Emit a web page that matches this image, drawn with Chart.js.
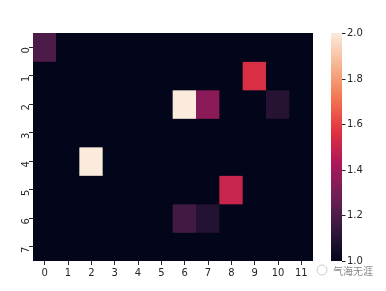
<!DOCTYPE html>
<html>
<head>
    <title>Heatmap</title>
    <script src="https://cdn.jsdelivr.net/npm/chart.js"></script>
    <style>
        body { margin: 0; background: #fff; }
    </style>
</head>
<body>
    <canvas id="heat" width="386" height="291"></canvas>

    <script>
        // data
        const rowLabels = ['0', '1', '2', '3', '4', '5', '6', '7'];
        const colLabels = ['0', '1', '2', '3', '4', '5', '6', '7', '8', '9', '10', '11'];
        const cellValues = [
            [1.2, 1, 1, 1, 1, 1, 1, 1, 1, 1, 1, 1],
            [1, 1, 1, 1, 1, 1, 1, 1, 1, 1.55, 1, 1],
            [1, 1, 1, 1, 1, 1, 2, 1.35, 1, 1, 1.1, 1],
            [1, 1, 1, 1, 1, 1, 1, 1, 1, 1, 1, 1],
            [1, 1, 2, 1, 1, 1, 1, 1, 1, 1, 1, 1],
            [1, 1, 1, 1, 1, 1, 1, 1, 1.5, 1, 1, 1],
            [1, 1, 1, 1, 1, 1, 1.17, 1.09, 1, 1, 1, 1],
            [1, 1, 1, 1, 1, 1, 1, 1, 1, 1, 1, 1]
        ];
        const vmin = 1.0;
        const vmax = 2.0;
        const cbTicks = [1.0, 1.2, 1.4, 1.6, 1.8, 2.0];

        // seaborn "rocket" stops
        const rocket = [
            [0, '#03051a'], [1 / 7, '#35193e'], [2 / 7, '#701f57'], [3 / 7, '#ad1759'],
            [4 / 7, '#e13342'], [5 / 7, '#f37651'], [6 / 7, '#f6b48f'], [1, '#faebdd']
        ];

        function hexRgb(h) {
            return [1, 3, 5].map(i => parseInt(h.slice(i, i + 2), 16));
        }

        function cmap(v) {
            let t = (v - vmin) / (vmax - vmin);
            t = Math.max(0, Math.min(1, t));
            for (let i = 1; i < rocket.length; i++) {
                if (t <= rocket[i][0]) {
                    const [t0, c0] = rocket[i - 1];
                    const [t1, c1] = rocket[i];
                    const f = (t - t0) / (t1 - t0);
                    const a = hexRgb(c0), b = hexRgb(c1);
                    const c = a.map((x, k) => Math.round(x + (b[k] - x) * f));
                    return 'rgb(' + c.join(',') + ')';
                }
            }
            return rocket[rocket.length - 1][1];
        }

        const datasets = rowLabels.map((r, ri) => ({
            label: r,
            data: colLabels.map(() => [ri, ri + 1]),
            backgroundColor: cellValues[ri].map(cmap),
            borderWidth: 0,
            grouped: false,
            barPercentage: 1,
            categoryPercentage: 1
        }));

        const tickFont = { family: 'DejaVu Sans', size: 10 };
        const ink = '#262626';

        const backdrop = {
            id: 'backdrop',
            beforeDatasetsDraw(chart) {
                const a = chart.chartArea;
                const ctx = chart.ctx;
                ctx.save();
                ctx.fillStyle = cmap(vmin);
                ctx.fillRect(a.left, a.top, a.right - a.left, a.bottom - a.top);
                ctx.restore();
            }
        };

        const colorbar = {
            id: 'colorbar',
            afterDraw(chart) {
                const s = chart.scales.cb;
                const ctx = chart.ctx;
                const x0 = s.left + 18;
                const w = 11;
                const yTop = s.getPixelForValue(vmax);
                const yBot = s.getPixelForValue(vmin);
                const g = ctx.createLinearGradient(0, yBot, 0, yTop);
                rocket.forEach(([t, c]) => g.addColorStop(t, c));
                ctx.save();
                ctx.fillStyle = g;
                ctx.fillRect(x0, yTop, w, yBot - yTop);
                ctx.strokeStyle = ink;
                ctx.lineWidth = 1;
                ctx.fillStyle = ink;
                ctx.font = '10px "DejaVu Sans"';
                ctx.textAlign = 'left';
                ctx.textBaseline = 'middle';
                cbTicks.forEach(v => {
                    const y = Math.round(s.getPixelForValue(v)) + 0.5;
                    ctx.beginPath();
                    ctx.moveTo(x0 + w, y);
                    ctx.lineTo(x0 + w + 3.5, y);
                    ctx.stroke();
                    ctx.fillText(v.toFixed(1), x0 + w + 5, y);
                });
                // watermark
                ctx.strokeStyle = '#ccc';
                ctx.beginPath();
                ctx.arc(322, 270, 5, 0, Math.PI * 2);
                ctx.stroke();
                ctx.fillStyle = '#888';
                ctx.font = '10px "Noto Sans CJK SC"';
                ctx.fillText('气海无涯', 333, 271);
                ctx.restore();
            }
        };

        new Chart(document.getElementById('heat'), {
            type: 'bar',
            data: { labels: colLabels, datasets: datasets },
            plugins: [backdrop, colorbar],
            options: {
                responsive: false,
                animation: false,
                layout: { padding: { top: 33, left: 0, right: 0, bottom: 0 } },
                plugins: {
                    legend: { display: false },
                    tooltip: { enabled: false }
                },
                scales: {
                    x: {
                        type: 'category',
                        offset: true,
                        grid: { offset: false, drawOnChartArea: false, drawTicks: true, tickLength: 4, color: ink, tickColor: ink },
                        border: { display: false },
                        ticks: { color: ink, font: tickFont, padding: 2, maxRotation: 0 },
                        afterFit: s => { s.height = 30; }
                    },
                    y: {
                        type: 'linear',
                        min: 0,
                        max: rowLabels.length,
                        reverse: true,
                        grid: { drawOnChartArea: false, drawTicks: true, tickLength: 4, color: ink, tickColor: ink },
                        border: { display: false },
                        ticks: {
                            color: ink, font: tickFont, padding: 3, minRotation: 90, maxRotation: 90,
                            callback: (v, i) => rowLabels[i]
                        },
                        afterBuildTicks: s => { s.ticks = rowLabels.map((_, i) => ({ value: i + 0.5 })); },
                        afterFit: s => { s.width = 33; }
                    },
                    cb: {
                        type: 'linear',
                        position: 'right',
                        min: vmin,
                        max: vmax,
                        grid: { display: false },
                        border: { display: false },
                        ticks: { display: false },
                        afterFit: s => { s.width = 73; }
                    }
                }
            }
        });
    </script>
</body>
</html>
